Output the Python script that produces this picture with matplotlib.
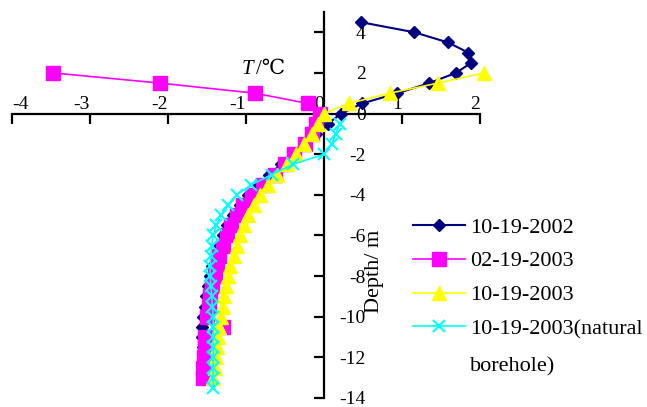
import matplotlib
matplotlib.use("Agg")
import matplotlib.pyplot as plt
from matplotlib.lines import Line2D

plt.rcParams['font.family'] = ['Liberation Serif', 'DejaVu Serif']
plt.rcParams['axes.unicode_minus'] = False

# ---- data ----
d2002 = [4.5, 4.0, 3.5, 3.0, 2.5, 2.0, 1.5, 1.0, 0.5, 0.0,
         -0.5, -1.0, -1.5, -2.0, -2.5, -3.0, -3.5, -4.0, -4.5, -5.0,
         -5.5, -6.0, -6.5, -7.0, -7.5, -8.0, -8.5, -9.0, -9.5, -10.0,
         -10.5, -11.0, -11.5, -12.0]
t2002 = [0.47, 1.16, 1.59, 1.85, 1.89, 1.69, 1.35, 0.94, 0.49, 0.22,
         0.05, -0.10, -0.25, -0.40, -0.55, -0.70, -0.85, -0.98, -1.08, -1.17,
         -1.24, -1.30, -1.35, -1.39, -1.43, -1.46, -1.49, -1.51, -1.53, -1.55,
         -1.56, -1.56, -1.55, -1.55]

d0203 = [2.0, 1.5, 1.0, 0.5, 0.0,
         -0.5, -1.0, -1.5, -2.0, -2.5, -3.0, -3.5, -4.0, -4.5, -5.0,
         -5.5, -6.0, -6.5, -7.0, -7.5, -8.0, -8.5, -9.0, -9.5, -10.0,
         -10.5, -11.0, -11.5, -12.0, -12.5, -13.0]
t0203 = [-3.47, -2.10, -0.88, -0.21, -0.05,
         -0.10, -0.15, -0.25, -0.38, -0.50, -0.63, -0.78, -0.92, -1.04, -1.12,
         -1.19, -1.25, -1.30, -1.34, -1.37, -1.40, -1.43, -1.46, -1.48, -1.50,
         -1.29, -1.52, -1.53, -1.54, -1.55, -1.55]

d1003 = [2.0, 1.5, 1.0, 0.5, 0.0,
         -0.5, -1.0, -1.5, -2.0, -2.5, -3.0, -3.5, -4.0, -4.5, -5.0,
         -5.5, -6.0, -6.5, -7.0, -7.5, -8.0, -8.5, -9.0, -9.5, -10.0,
         -10.5, -11.0, -11.5, -12.0, -12.5, -13.0]
t1003 = [2.05, 1.46, 0.84, 0.32, 0.0,
         -0.08, -0.16, -0.26, -0.36, -0.47, -0.60, -0.72, -0.82, -0.90, -0.97,
         -1.03, -1.08, -1.12, -1.16, -1.20, -1.23, -1.26, -1.28, -1.30, -1.32,
         -1.34, -1.36, -1.37, -1.39, -1.40, -1.42]

dnat = [-0.5, -1.0, -1.5, -2.0, -2.5, -3.0, -3.5, -4.0, -4.5, -5.0,
        -5.5, -6.0, -6.5, -7.0, -7.5, -8.0, -8.5, -9.0, -9.5, -10.0,
        -10.5, -11.0, -11.5, -12.0, -12.5, -13.0, -13.5]
tnat = [0.20, 0.15, 0.10, 0.0, -0.40, -0.67, -0.93, -1.12, -1.23, -1.32,
        -1.38, -1.42, -1.44, -1.45, -1.46, -1.46, -1.45, -1.44, -1.43, -1.42,
        -1.42, -1.42, -1.42, -1.42, -1.42, -1.42, -1.42]

labels = ['10-19-2002', '02-19-2003', '10-19-2003', '10-19-2003(natural']
xticks = [-4, -3, -2, -1, 0, 1, 2]
yticks = [-14, -12, -10, -8, -6, -4, -2, 0, 2, 4]

W, H = 647, 407
fig = plt.figure(figsize=(W / 100, H / 100), dpi=100)
ax = fig.add_axes([12 / W, 9 / H, 468 / W, 386 / H])
ax.set_xlim(-4, 2)
ax.set_ylim(-14, 5)

styles = [
    dict(color='#000080', marker='D', ms=6.5, lw=1.5),
    dict(color='#FF00FF', marker='s', ms=10, lw=1.2),
    dict(color='#FFFF00', marker='^', ms=10, lw=1.2),
    dict(color='#00FFFF', marker='x', ms=9, lw=1.2, mew=1.5),
]
series = [(t2002, d2002), (t0203, d0203), (t1003, d1003), (tnat, dnat)]
for (t, d), st, lab in zip(series, styles, labels):
    ax.plot(t, d, label=lab, clip_on=False, **st)

for s in ['top', 'right']:
    ax.spines[s].set_visible(False)
ax.spines['left'].set_position(('data', 0))
ax.spines['bottom'].set_position(('data', 0))
for s in ['left', 'bottom']:
    ax.spines[s].set_linewidth(1.6)
    ax.spines[s].set_zorder(0.5)

ax.set_xticks(xticks)
ax.set_xticklabels([str(v) for v in xticks])
ax.set_yticks(yticks)
ax.set_yticklabels([str(v) for v in yticks])
ax.tick_params(axis='x', direction='out', length=7, width=1.6, labelsize=14, pad=-20)
ax.tick_params(axis='y', direction='out', length=7, width=1.6, labelsize=14, pad=-37)
for lbl in ax.get_yticklabels():
    lbl.set_horizontalalignment('right')
xl = ax.get_xticklabels()
for lbl in xl:
    lbl.set_horizontalalignment('right')
xl[0].set_horizontalalignment('left')

ax.text(-0.91, 2.16, 'T', fontsize=15, style='italic', ha='right', va='center')
ax.text(-0.87, 2.16, '/℃', fontsize=15, ha='left', va='center')
ax.text(0.65, -7.75, 'Depth/ m', fontsize=16, rotation=90, ha='center', va='center')

handles = [Line2D([], [], **st) for st in styles]
leg = fig.legend(handles, labels, loc='upper left',
                 bbox_to_anchor=(413 / W, 1 - 217 / H), frameon=False,
                 fontsize=16, handlelength=2.34, handletextpad=0.22,
                 borderpad=0, borderaxespad=0, labelspacing=0.6)
fig.text(470 / W, 1 - 367 / H, 'borehole)', fontsize=16, ha='left', va='center')

fig.savefig('out.png', dpi=100)
